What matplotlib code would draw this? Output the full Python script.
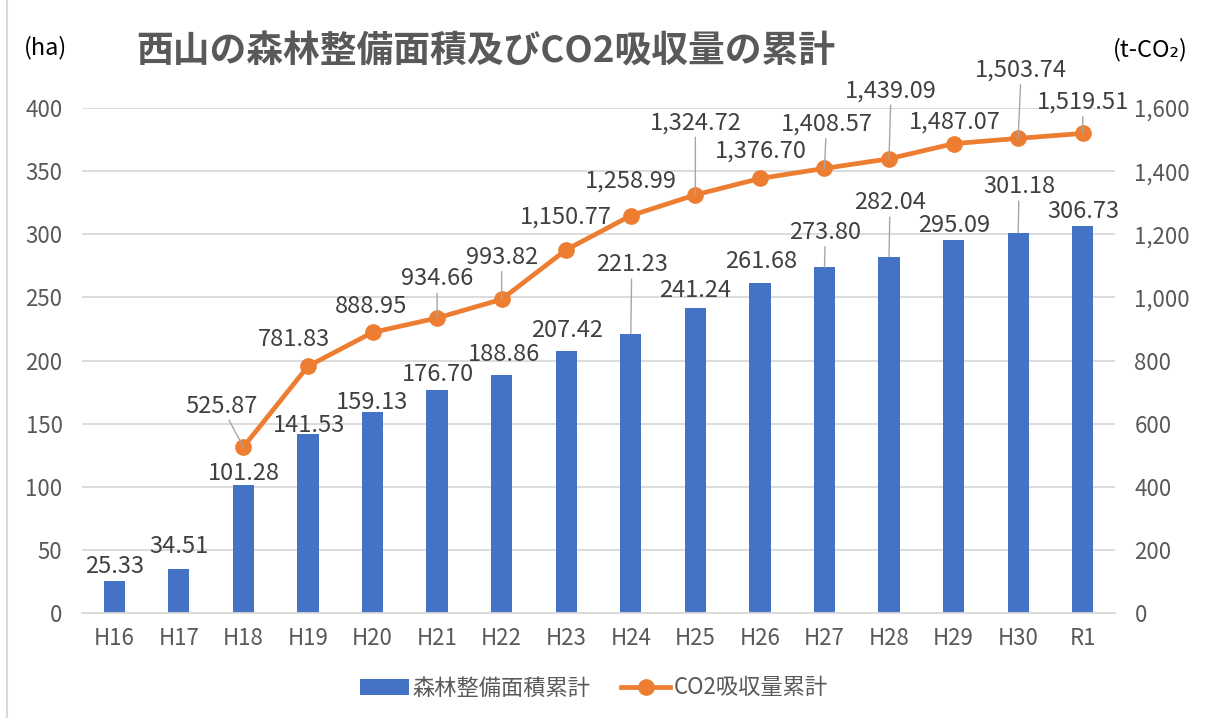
import matplotlib.pyplot as plt
import matplotlib.ticker as mticker
import numpy as np

# フォント（日本語が出るように CJK を先頭に）
plt.rcParams['font.family'] = ['Noto Sans CJK JP', 'DejaVu Sans']

# 年度
nendo = ['H16', 'H17', 'H18', 'H19', 'H20', 'H21', 'H22', 'H23',
         'H24', 'H25', 'H26', 'H27', 'H28', 'H29', 'H30', 'R1']

# 森林整備面積累計 (ha)
menseki = [25.33, 34.51, 101.28, 141.53, 159.13, 176.70, 188.86, 207.42,
           221.23, 241.24, 261.68, 273.80, 282.04, 295.09, 301.18, 306.73]

# CO2吸収量累計 (t-CO2)  H16, H17 はデータなし
co2 = [np.nan, np.nan, 525.87, 781.83, 888.95, 934.66, 993.82, 1150.77,
       1258.99, 1324.72, 1376.70, 1408.57, 1439.09, 1487.07, 1503.74, 1519.51]

# データラベルの位置（点からのずれ、ピクセル）と引き出し線の有無
bar_dx = [0, 0, 0, 1, 0, 1, 2, 1, 1, 0, 1, 1, 1, 1, 1, 1]
bar_dy = [15, 23, 12, 9, 10, 15, 20, 21, 69, 18, 21, 35, 54, 15, 46, 14]
bar_sen = [False] * 8 + [True, False, False, True, True, False, True, False]

line_dx = [0, 0, -22, -14, -1, 0, 0, 0, 0, 0, 1, 2, 2, 1, 3, 0]
line_dy = [0, 0, 41, 27, 26, 39, 42, 33, 35, 72, 27, 44, 68, 22, 68, 31]
line_sen = [False, False, True, False, False, True, True, False, False,
            True, False, True, True, False, True, True]

AO = '#4472C4'
DAIDAI = '#ED7D31'
HAI = '#595959'

fig = plt.figure(figsize=(12.08, 7.18), dpi=100)
ax = fig.add_axes([82 / 1208, 1 - 613 / 718, 1033 / 1208, 505 / 718])
ax2 = ax.twinx()

x = np.arange(len(nendo))

# 棒グラフ（面積）
ax.bar(x, menseki, width=0.33, color=AO, label='森林整備面積累計', zorder=2)
ax.set_xlim(-0.5, len(nendo) - 0.5)
ax.set_ylim(0, 400)
ax.set_yticks(np.arange(0, 401, 50))
ax.grid(axis='y', color='#d9d9d9', lw=1.3, zorder=0)
ax.set_axisbelow(True)

# 折れ線グラフ（CO2）
ax2.plot(x, co2, color=DAIDAI, lw=3.4, marker='o', ms=11,
         label='CO2吸収量累計')
ax2.set_ylim(0, 1600)
ax2.set_yticks(np.arange(0, 1601, 200))
ax2.yaxis.set_major_formatter(mticker.FuncFormatter(lambda v, p: f'{v:,.0f}'))

ax.set_xticks(x)
ax.set_xticklabels(nendo)

for a in (ax, ax2):
    for s in a.spines.values():
        s.set_visible(False)
    a.tick_params(length=0, labelsize=16, labelcolor=HAI)
ax.spines['bottom'].set_visible(True)
ax.spines['bottom'].set_color('#d9d9d9')
ax.spines['bottom'].set_linewidth(1.3)
ax.tick_params(axis='y', pad=14)
ax.tick_params(axis='x', pad=10)
ax2.tick_params(axis='y', pad=14)

sen = dict(arrowstyle='-', color='#a6a6a6', lw=1, shrinkA=0, shrinkB=0)

# 棒のラベル
for i, v in enumerate(menseki):
    ax.annotate(f'{v:,.2f}', (x[i], v), xytext=(bar_dx[i], bar_dy[i]),
                textcoords='offset pixels', ha='center', va='center',
                fontsize=17, color='#404040',
                arrowprops=sen if bar_sen[i] else None)

# 折れ線のラベル
for i, v in enumerate(co2):
    if np.isnan(v):
        continue
    ax2.annotate(f'{v:,.2f}', (x[i], v), xytext=(line_dx[i], line_dy[i]),
                 textcoords='offset pixels', ha='center', va='center',
                 fontsize=17, color='#404040',
                 arrowprops=sen if line_sen[i] else None)

# タイトルと単位
fig.text(486 / 1208, 1 - 52 / 718, '西山の森林整備面積及びCO2吸収量の累計',
         ha='center', va='center', fontsize=26.5, fontweight='bold', color=HAI)
fig.text(45 / 1208, 1 - 48 / 718, '(ha)', ha='center', va='center',
         fontsize=17, color='black')
fig.text(1150 / 1208, 1 - 50 / 718, '(t-CO₂)', ha='center', va='center',
         fontsize=17, color='black')

# 凡例
h1, l1 = ax.get_legend_handles_labels()
h2, l2 = ax2.get_legend_handles_labels()
fig.legend(h1 + h2, l1 + l2, loc='center', bbox_to_anchor=(594 / 1208, 1 - 688 / 718),
           ncol=2, frameon=False, fontsize=16, labelcolor=HAI,
           handlelength=2.2, handletextpad=0.15, columnspacing=1.4)

# 枠線（左側）
fig.add_artist(plt.Line2D([7 / 1208, 7 / 1208], [0, 1], transform=fig.transFigure,
                          color='#d9d9d9', lw=1.5))

fig.savefig('out.png', dpi=100)
